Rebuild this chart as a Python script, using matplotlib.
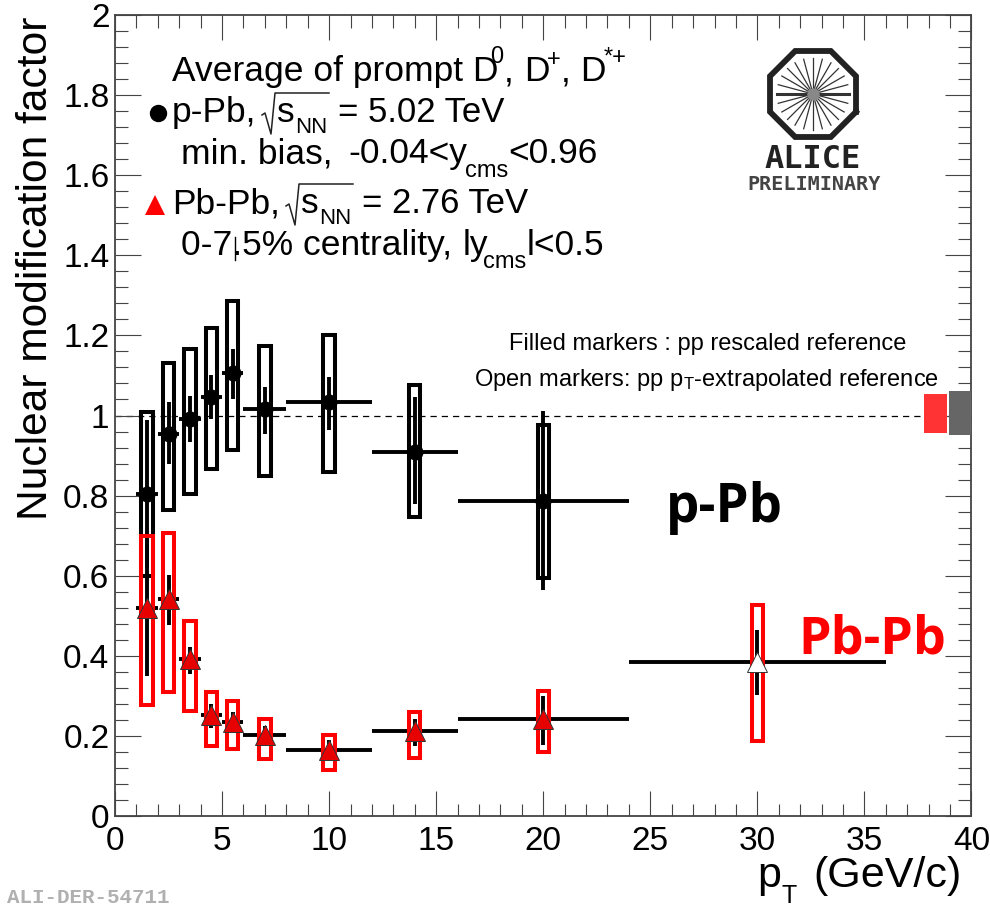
import numpy as np
import matplotlib
matplotlib.use('Agg')
import matplotlib.pyplot as plt
from matplotlib.patches import Rectangle
from matplotlib.ticker import MultipleLocator

plt.rcParams['font.family'] = ['Liberation Sans', 'DejaVu Sans']
plt.rcParams['mathtext.fontset'] = 'custom'
plt.rcParams['mathtext.rm'] = 'Liberation Sans'
plt.rcParams['mathtext.it'] = 'Liberation Sans'
plt.rcParams['mathtext.bf'] = 'Liberation Sans:bold'

# p-Pb
ppb_pt = [1.5, 2.5, 3.5, 4.5, 5.5, 7, 10, 14, 20]
ppb_xerr = [0.5, 0.5, 0.5, 0.5, 0.5, 1, 2, 2, 4]
ppb_val = [0.805, 0.955, 0.992, 1.046, 1.105, 1.015, 1.033, 0.91, 0.787]
ppb_stat_lo = [0.62, 0.878, 0.934, 0.992, 1.042, 0.953, 0.965, 0.778, 0.565]
ppb_stat_hi = [0.99, 1.033, 1.048, 1.10, 1.167, 1.072, 1.097, 1.045, 1.01]
ppb_sys_lo = [0.60, 0.763, 0.804, 0.867, 0.913, 0.848, 0.858, 0.7475, 0.595]
ppb_sys_hi = [1.008, 1.13, 1.167, 1.218, 1.287, 1.173, 1.201, 1.075, 0.977]

# Pb-Pb
pbpb_pt = [1.5, 2.5, 3.5, 4.5, 5.5, 7, 10, 14, 20, 30]
pbpb_xerr = [0.5, 0.5, 0.5, 0.5, 0.5, 1, 2, 2, 4, 6]
pbpb_val = [0.52, 0.5425, 0.3925, 0.251, 0.235, 0.202, 0.164, 0.211, 0.2425, 0.385]
pbpb_stat_lo = [0.35, 0.4775, 0.355, 0.22, 0.21, 0.18, 0.14, 0.176, 0.178, 0.3025]
pbpb_stat_hi = [0.69, 0.6025, 0.423, 0.28, 0.26, 0.225, 0.19, 0.242, 0.30, 0.465]
pbpb_sys_lo = [0.276, 0.309, 0.261, 0.175, 0.167, 0.142, 0.115, 0.145, 0.16, 0.1875]
pbpb_sys_hi = [0.70, 0.707, 0.488, 0.31, 0.2875, 0.243, 0.2025, 0.259, 0.3125, 0.5275]

# normalisation boxes at the right edge
norm_x = [[37.8, 38.87], [38.96, 40.0]]
norm_y = [[0.9575, 1.054], [0.9525, 1.06]]
norm_col = ['#ff3333', '#666666']

W, H = 990, 908
frame = '#444444'
fig = plt.figure(figsize=(W / 100, H / 100), dpi=100)
ax = fig.add_axes([115 / W, 1 - 816 / H, (971.5 - 115) / W, (816 - 15) / H])
ax.set_xlim(0, 40)
ax.set_ylim(0, 2)


def draw_points(x, xerr, val, lo, hi, sys_lo, sys_hi, box_col):
    val = np.array(val)
    yerr = [val - np.array(lo), np.array(hi) - val]
    ax.errorbar(x, val, xerr=xerr, yerr=yerr, fmt='none', ecolor='k',
                elinewidth=2.8, capsize=0, zorder=3)
    ax.bar(x, np.array(sys_hi) - np.array(sys_lo), bottom=sys_lo, width=0.53,
           fill=False, edgecolor=box_col, linewidth=2.9, zorder=4)


ax.axhline(1, color='k', lw=0.9, ls=(0, (5, 4)), zorder=1)
draw_points(ppb_pt, ppb_xerr, ppb_val, ppb_stat_lo, ppb_stat_hi,
            ppb_sys_lo, ppb_sys_hi, 'k')
ax.plot(ppb_pt, ppb_val, 'o', color='k', ms=10.5, ls='none', zorder=5)
draw_points(pbpb_pt, pbpb_xerr, pbpb_val, pbpb_stat_lo, pbpb_stat_hi,
            pbpb_sys_lo, pbpb_sys_hi, '#ff0000')
ax.plot(pbpb_pt[:-1], pbpb_val[:-1], '^', mfc='#e60000', mec='#333333', mew=0.7,
        ms=15, ls='none', zorder=6)
ax.plot(pbpb_pt[-1:], pbpb_val[-1:], '^', mfc='white', mec='#333333', mew=0.7,
        ms=15, ls='none', zorder=6)

for xs, ys, c in zip(norm_x, norm_y, norm_col):
    ax.add_patch(Rectangle((xs[0], ys[0]), xs[1] - xs[0], ys[1] - ys[0],
                           fc=c, ec='none', zorder=7, clip_on=False))

ax.xaxis.set_minor_locator(MultipleLocator(1))
ax.yaxis.set_minor_locator(MultipleLocator(0.04))
ax.set_xticks(range(0, 45, 5))
ax.set_xticklabels(['0', '5', '10', '15', '20', '25', '30', '35', '40'])
ax.set_yticks(np.arange(0, 2.01, 0.2))
ax.set_yticklabels(['0', '0.2', '0.4', '0.6', '0.8', '1', '1.2', '1.4', '1.6', '1.8', '2'])
ax.tick_params(axis='x', which='major', direction='in', top=True, length=18, width=0.8,
               color=frame, labelsize=24, pad=7)
ax.tick_params(axis='x', which='minor', direction='in', top=True, length=9, width=0.8,
               color=frame)
ax.tick_params(axis='y', which='major', direction='in', right=True, length=19, width=0.8,
               color=frame, labelsize=24, pad=4)
ax.tick_params(axis='y', which='minor', direction='in', right=True, length=9.4, width=0.8,
               color=frame)
for s in ax.spines.values():
    s.set_color(frame)
    s.set_linewidth(1.3)

# everything below is placed in picture pixels
ov = fig.add_axes([0, 0, 1, 1], facecolor='none')
ov.set_xlim(0, W)
ov.set_ylim(H, 0)
ov.axis('off')

fs = 25.5
sub = 17

# header, piece by piece because the spacing is odd in the original
ov.text(172, 81, 'Average of prompt D', fontsize=fs)
ov.text(490, 63, '0', fontsize=sub)
ov.text(504, 81, ',', fontsize=fs)
ov.text(524, 81, 'D', fontsize=fs)
ov.text(547, 66, '+', fontsize=sub)
ov.text(561, 81, ',', fontsize=fs)
ov.text(580, 81, 'D', fontsize=fs)
ov.text(604, 64, '*+', fontsize=sub)


def sqrt_snn(x0, base):
    # root sign drawn by hand, mathtext makes it far too wide here
    ov.plot([x0, x0 + 3, x0 + 9, x0 + 13, x0 + 67],
            [base - 7, base - 9, base + 12, base - 29, base - 29],
            color='#222222', lw=1.1)
    ov.text(x0 + 15, base, 's', fontsize=fs)
    ov.text(x0 + 33, base + 11, 'NN', fontsize=16)


ov.plot([158], [113], 'o', color='k', ms=11.5)
ov.text(172, 122, 'p-Pb,', fontsize=fs)
sqrt_snn(262, 122)
ov.text(338, 122, '= 5.02 TeV', fontsize=25)

ov.text(181, 163, 'min. bias,', fontsize=fs)
ov.text(348, 163, '-0.04<y', fontsize=fs)
ov.text(465, 177, 'cms', fontsize=sub)
ov.text(508, 163, '<0.96', fontsize=fs)

ov.plot([155], [205], '^', color='#ff0000', ms=14, mew=0)
ov.text(172, 213, 'Pb-Pb,', fontsize=fs)
sqrt_snn(286, 213)
ov.text(362, 213, '= 2.76 TeV', fontsize=25)

ov.text(181, 255, '0-7.5% centrality,', fontsize=fs)
ov.text(463, 255, 'ly', fontsize=fs)
ov.text(483, 268, 'cms', fontsize=sub)
ov.text(527, 255, 'l<0.5', fontsize=fs)
ov.plot([235, 235], [237, 260], color='k', lw=1)

ov.text(509, 350, 'Filled markers : pp rescaled reference', fontsize=17)
ov.text(474, 386, r'Open markers: pp p$_{\mathrm{T}}$-extrapolated reference', fontsize=17)
ov.text(666, 522, 'p-Pb', fontsize=38, fontweight='bold', family='Open Sans', color='k')
ov.text(798, 654, 'Pb-Pb', fontsize=37.5, fontweight='bold', family='Open Sans', color='#ff0000')

ov.text(47, 268, 'Nuclear modification factor', fontsize=30.6, rotation=90,
        ha='center', va='baseline', rotation_mode='anchor')
ov.text(757, 887, 'p', fontsize=31)
ov.text(782, 903, 'T', fontsize=18)
ov.text(813, 887, '(GeV/c)', fontsize=31)
ov.text(7, 903, 'ALI-DER-54711', fontsize=15, fontweight='bold',
        family='Liberation Mono', color='#b0b0b0')

# ALICE logo
cx, cy, r = 813, 94, 43
ang = np.deg2rad(22.5 + 45 * np.arange(9))
ov.plot(cx + r / np.cos(np.pi / 8) * np.cos(ang), cy + r / np.cos(np.pi / 8) * np.sin(ang),
        color='#222222', lw=4.2, solid_joinstyle='miter')
for a in np.deg2rad(np.arange(0, 360, 15)):
    lw = 2.2 if a in (0, np.pi) else 0.9
    ov.plot([cx + 5 * np.cos(a), cx + 36 * np.cos(a)],
            [cy + 5 * np.sin(a), cy + 36 * np.sin(a)], color='#333333', lw=lw)
ov.plot([cx], [cy], 'o', color='#888888', ms=9, mew=0)
ov.text(813, 168, 'ALICE', fontsize=23, fontweight='bold', family='DejaVu Sans Mono',
        ha='center', color='#222222')
ov.text(814, 190, 'PRELIMINARY', fontsize=14.5, fontweight='bold', family='DejaVu Sans Mono',
        ha='center', color='#444444')

fig.savefig('out.png', dpi=100)
